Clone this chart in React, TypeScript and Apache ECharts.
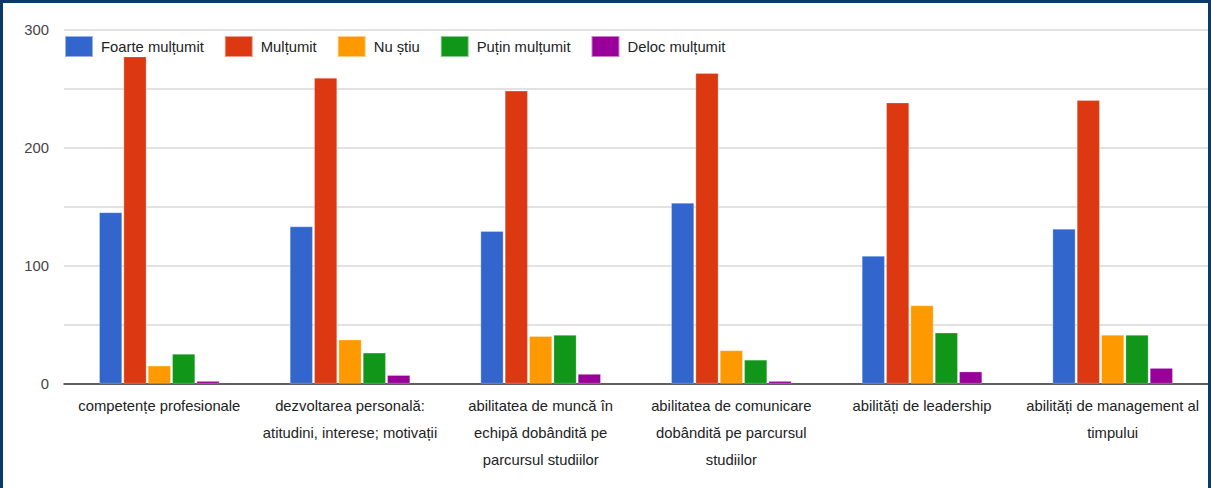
import React, { useEffect, useRef } from "react";
import * as echarts from "echarts";

const categories = [
  "competențe profesionale",
  "dezvoltarea personală:\natitudini, interese; motivații",
  "abilitatea de muncă în\nechipă dobândită pe\nparcursul studiilor",
  "abilitatea de comunicare\ndobândită pe parcursul\nstudiilor",
  "abilități de leadership",
  "abilități de management al\ntimpului",
];

const seriesNames = ["Foarte mulțumit", "Mulțumit", "Nu știu", "Puțin mulțumit", "Deloc mulțumit"];
const colors = ["#3366cc", "#dc3912", "#ff9900", "#109618", "#990099"];

const foarteMultumit = [145, 133, 129, 153, 108, 131];
const multumit = [277, 259, 248, 263, 238, 240];
const nuStiu = [15, 37, 40, 28, 66, 41];
const putinMultumit = [25, 26, 41, 20, 43, 41];
const delocMultumit = [2, 7, 8, 2, 10, 13];

const seriesData = [foarteMultumit, multumit, nuStiu, putinMultumit, delocMultumit];

const FONT = "'Liberation Sans', Arial, sans-serif";
const NAVY = "#0a3a6b";
const FS = 14.8;

export default function App() {
  const ref = useRef<HTMLDivElement>(null);
  useEffect(() => {
    document.body.style.margin = "0";
    const chart = echarts.init(ref.current!, undefined, { renderer: "svg" });
    chart.setOption({
      animation: false,
      backgroundColor: "#ffffff",
      textStyle: { fontFamily: FONT },
      color: colors,
      legend: {
        left: 59,
        top: 30,
        itemWidth: 28,
        itemHeight: 21,
        itemGap: 20,
        icon: "rect",
        textStyle: { fontFamily: FONT, fontSize: FS, color: "#222222", padding: [0, 0, 0, 3] },
        data: seriesNames,
      },
      grid: { left: 64, right: 3, top: 29.5, bottom: 104.5, containLabel: false },
      xAxis: {
        type: "category",
        data: categories,
        axisTick: { show: false },
        axisLine: { lineStyle: { color: "#333333", width: 1.5 } },
        axisLabel: {
          interval: 0,
          margin: 9,
          fontFamily: FONT,
          fontSize: FS,
          lineHeight: 27,
          color: "#222222",
          align: "center",
        },
      },
      yAxis: {
        type: "value",
        min: 0,
        max: 300,
        interval: 50,
        axisLine: { show: false },
        axisTick: { show: false },
        splitLine: { lineStyle: { color: "#d9d9d9", width: 1.5 } },
        axisLabel: {
          margin: 15,
          fontFamily: FONT,
          fontSize: FS,
          color: "#444444",
          formatter: (v: number) => (v % 100 === 0 ? String(v) : ""),
        },
      },
      series: seriesData.map((d, i) => ({
        name: seriesNames[i],
        type: "bar",
        data: d,
        barGap: "7%",
        barCategoryGap: "37%",
        itemStyle: { color: colors[i], borderColor: "rgba(255,255,255,0.5)", borderWidth: 0.5 },
      })),
      graphic: [
        { type: "rect", shape: { x: 0, y: 0, width: 1211, height: 3 }, style: { fill: NAVY }, silent: true },
        { type: "rect", shape: { x: 0, y: 0, width: 3, height: 488 }, style: { fill: NAVY }, silent: true },
        { type: "rect", shape: { x: 1208, y: 0, width: 3, height: 488 }, style: { fill: NAVY }, silent: true },
      ],
    });
    return () => chart.dispose();
  }, []);
  return <div ref={ref} style={{ width: 1211, height: 488 }} />;
}
